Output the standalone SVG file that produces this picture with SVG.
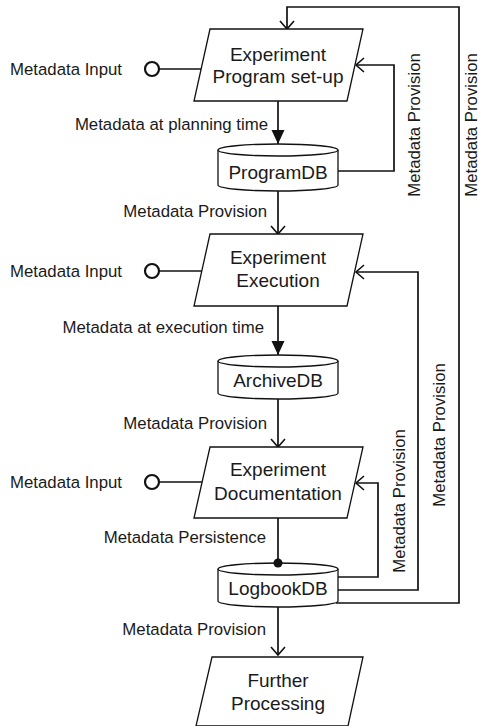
<svg xmlns="http://www.w3.org/2000/svg" width="482" height="726" viewBox="0 0 482 726">
  <defs>
    <marker id="open" markerUnits="userSpaceOnUse" markerWidth="16" markerHeight="16" refX="8" refY="7" orient="auto" overflow="visible">
      <path d="M0,0 L8,7 L0,14" fill="none" stroke="#111" stroke-width="1.6"/>
    </marker>
    <marker id="solid" markerUnits="userSpaceOnUse" markerWidth="16" markerHeight="16" refX="14" refY="6.5" orient="auto" overflow="visible">
      <path d="M0,0 L14,6.5 L0,13 Z" fill="#111"/>
    </marker>
  </defs>
  <style>
    text { font-family: "Liberation Sans", Arial, sans-serif; fill: #1a1a1a; }
    .node { font-size: 19px; text-anchor: middle; }
    .lbl { font-size: 16.8px; }
    .end { text-anchor: end; }
    .vert { text-anchor: middle; }
    .shape { fill: #fff; stroke: #111; stroke-width: 1.3; }
    .line { fill: none; stroke: #111; stroke-width: 1.7; }
    .port { fill: #fff; stroke: #111; stroke-width: 2.2; }
  </style>
  <rect width="482" height="726" fill="#fff"/>

  <!-- connectors -->
  <g id="connectors">
    <!-- metadata inputs -->
    <line class="line" x1="159" y1="69" x2="202" y2="69"/>
    <line class="line" x1="159" y1="271" x2="202" y2="271"/>
    <line class="line" x1="159" y1="482" x2="202" y2="482"/>
    <!-- main flow -->
    <line class="line" x1="278" y1="101" x2="278" y2="144" marker-end="url(#solid)"/>
    <line class="line" x1="278" y1="191" x2="278" y2="234" marker-end="url(#open)"/>
    <line class="line" x1="278" y1="306" x2="278" y2="355" marker-end="url(#solid)"/>
    <line class="line" x1="278" y1="399" x2="278" y2="447" marker-end="url(#open)"/>
    <line class="line" x1="278" y1="518" x2="278" y2="563"/>
    <line class="line" x1="278" y1="607" x2="278" y2="655" marker-end="url(#open)"/>
    <!-- feedback loops -->
    <polyline class="line" points="338,171 394,171 394,65 356,65" marker-end="url(#open)"/>
    <polyline class="line" points="338,577 378,577 378,483 356,483" marker-end="url(#open)"/>
    <polyline class="line" points="338,590 418,590 418,272 356,272" marker-end="url(#open)"/>
    <polyline class="line" points="336,603 459,603 459,7 287,7 287,29" marker-end="url(#open)"/>
  </g>

  <!-- edge labels -->
  <g id="labels">
    <text class="lbl" x="10" y="75">Metadata Input</text>
    <text class="lbl" x="10" y="277">Metadata Input</text>
    <text class="lbl" x="10" y="488">Metadata Input</text>
    <text class="lbl end" x="268" y="130">Metadata at planning time</text>
    <text class="lbl end" x="267" y="217">Metadata Provision</text>
    <text class="lbl end" x="264" y="333">Metadata at execution time</text>
    <text class="lbl end" x="267" y="429">Metadata Provision</text>
    <text class="lbl end" x="266" y="543">Metadata Persistence</text>
    <text class="lbl end" x="266" y="635">Metadata Provision</text>
    <text class="lbl vert" transform="translate(420,125) rotate(-90)">Metadata Provision</text>
    <text class="lbl vert" transform="translate(477,125) rotate(-90)">Metadata Provision</text>
    <text class="lbl vert" transform="translate(405,501) rotate(-90)">Metadata Provision</text>
    <text class="lbl vert" transform="translate(445,435) rotate(-90)">Metadata Provision</text>
  </g>

  <!-- input ports -->
  <g id="input-1"><circle class="port" cx="152" cy="69" r="7"/></g>
  <g id="input-2"><circle class="port" cx="152" cy="271" r="7"/></g>
  <g id="input-3"><circle class="port" cx="152" cy="482" r="7"/></g>

  <!-- process nodes -->
  <g id="program-setup">
    <polygon class="shape" points="210,29 363,29 347,101 194,101"/>
    <text class="node" x="278" y="61">Experiment</text>
    <text class="node" x="278" y="83">Program set-up</text>
  </g>
  <g id="execution">
    <polygon class="shape" points="210,234 363,234 347,306 194,306"/>
    <text class="node" x="278" y="264">Experiment</text>
    <text class="node" x="278" y="287">Execution</text>
  </g>
  <g id="documentation">
    <polygon class="shape" points="210,447 363,447 347,518 194,518"/>
    <text class="node" x="278" y="476">Experiment</text>
    <text class="node" x="278" y="500">Documentation</text>
  </g>
  <g id="further-processing">
    <polygon class="shape" points="212,657 363,657 348,726 196,726"/>
    <text class="node" x="278" y="687">Further</text>
    <text class="node" x="278" y="710">Processing</text>
  </g>

  <!-- databases -->
  <g id="programdb">
    <path class="shape" d="M218,150 A60,6 0 0 1 338,150 V185 A60,6 0 0 1 218,185 Z"/>
    <path class="line" style="stroke-width:1.3" d="M218,150 A60,6 0 0 0 338,150"/>
    <text class="node" x="278" y="179">ProgramDB</text>
  </g>
  <g id="archivedb">
    <path class="shape" d="M218,361 A60,6 0 0 1 338,361 V393 A60,6 0 0 1 218,393 Z"/>
    <path class="line" style="stroke-width:1.3" d="M218,361 A60,6 0 0 0 338,361"/>
    <text class="node" x="278" y="387">ArchiveDB</text>
  </g>
  <g id="logbookdb">
    <path class="shape" d="M218,569 A60,6 0 0 1 338,569 V601 A60,6 0 0 1 218,601 Z"/>
    <path class="line" style="stroke-width:1.3" d="M218,569 A60,6 0 0 0 338,569"/>
    <text class="node" x="278" y="595">LogbookDB</text>
  </g>

  <!-- persistence end point, drawn over the LogbookDB lid -->
  <circle cx="278" cy="563" r="4.5" fill="#111"/>
</svg>
